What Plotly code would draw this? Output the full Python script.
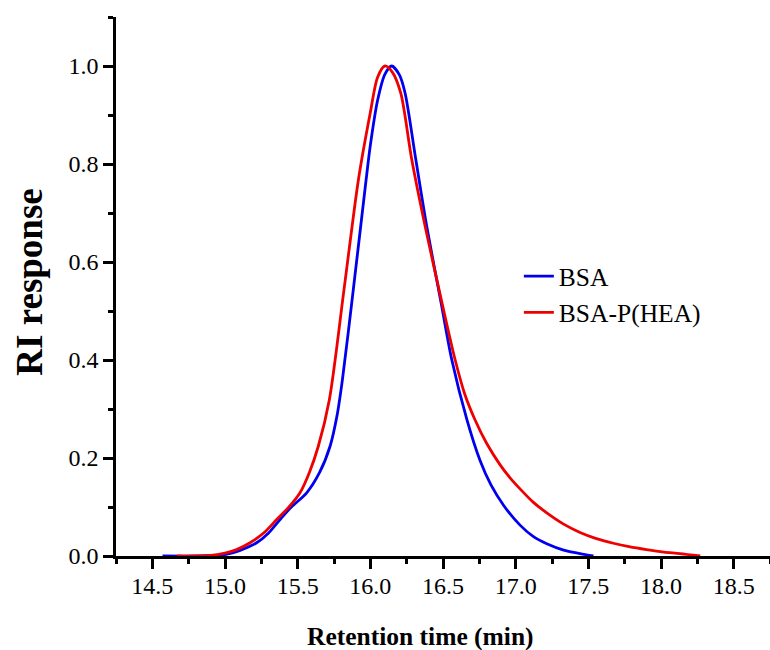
import plotly.graph_objects as go

# Retention time (min) and RI response
bsa_t = [14.57, 14.80, 15.00, 15.10, 15.218, 15.30, 15.379, 15.45, 15.562, 15.65, 15.723, 15.77, 15.808,
         15.883, 15.971, 16.00, 16.05, 16.10, 16.147, 16.20, 16.239, 16.313, 16.388,
         16.491, 16.56, 16.664, 16.755, 16.83, 16.92, 17.03, 17.12, 17.214, 17.33, 17.443, 17.535]
bsa_v = [0.0, 0.0, 0.003, 0.011, 0.027, 0.047, 0.0745, 0.098, 0.129, 0.170, 0.224, 0.285, 0.360,
         0.544, 0.768, 0.838, 0.930, 0.983, 1.0, 0.982, 0.945, 0.809, 0.673,
         0.510, 0.401, 0.279, 0.195, 0.145, 0.102, 0.063, 0.040, 0.025, 0.012, 0.005, 0.0]

hea_t = [14.67, 14.90, 15.00, 15.08, 15.172, 15.27, 15.356, 15.44, 15.516, 15.58, 15.642, 15.718,
         15.819, 15.918, 16.00, 16.05, 16.10, 16.15, 16.209, 16.285, 16.377, 16.498,
         16.583, 16.65, 16.72, 16.80, 16.893, 16.96, 17.03, 17.12, 17.214, 17.33, 17.443, 17.55,
         17.672, 17.78, 17.90, 18.02, 18.13, 18.27]
hea_v = [0.0, 0.001, 0.006, 0.013, 0.027, 0.048, 0.0745, 0.100, 0.129, 0.170, 0.224, 0.319,
         0.544, 0.768, 0.905, 0.977, 1.0, 0.988, 0.945, 0.809, 0.673, 0.510,
         0.401, 0.330, 0.278, 0.230, 0.186, 0.160, 0.137, 0.110, 0.088, 0.065, 0.048, 0.036,
         0.026, 0.019, 0.013, 0.008, 0.005, 0.0]

x_ticks = [14.5, 15.0, 15.5, 16.0, 16.5, 17.0, 17.5, 18.0, 18.5]
y_ticks = [0.0, 0.2, 0.4, 0.6, 0.8, 1.0]

FONT = "Liberation Serif"

fig = go.Figure()
fig.add_trace(go.Scatter(x=bsa_t, y=bsa_v, mode="lines", name="BSA",
                         line=dict(color="#0000EE", width=2.8, shape="spline", smoothing=0.8)))
fig.add_trace(go.Scatter(x=hea_t, y=hea_v, mode="lines", name="BSA-P(HEA)",
                         line=dict(color="#EE0000", width=2.8, shape="spline", smoothing=0.8)))

fig.update_layout(
    width=770, height=650,
    margin=dict(l=116, r=0, t=17, b=94),
    plot_bgcolor="white", paper_bgcolor="white",
    font=dict(family=FONT, size=24, color="black"),
    showlegend=True,
    legend=dict(x=0.616, y=0.562, xanchor="left", yanchor="top",
                bgcolor="rgba(0,0,0,0)", font=dict(family=FONT, size=25.5),
                itemwidth=30, tracegroupgap=0),
    xaxis=dict(range=[14.25, 18.75], tickvals=x_ticks, ticktext=[f"{v:.1f}" for v in x_ticks],
               automargin=False,
               showgrid=False, zeroline=False, showline=True, linecolor="black", linewidth=2.5,
               ticks="outside", ticklen=10, tickwidth=2.5, tickcolor="black",
               ticklabelstandoff=-4,
               minor=dict(ticks="outside", ticklen=5, tickwidth=2.5, tickcolor="black",
                          dtick=0.25, tick0=14.25, showgrid=False),
               tickfont=dict(family=FONT, size=24)),
    yaxis=dict(range=[0, 1.1], tickvals=y_ticks, ticktext=[f"{v:.1f}" for v in y_ticks],
               automargin=False,
               showgrid=False, zeroline=False, showline=True, linecolor="black", linewidth=2.5,
               ticks="outside", ticklen=10, tickwidth=2.5, tickcolor="black",
               minor=dict(ticks="outside", ticklen=5, tickwidth=2.5, tickcolor="black",
                          dtick=0.1, tick0=0, showgrid=False),
               tickfont=dict(family=FONT, size=24)),
    annotations=[
        dict(text="<b>Retention time (min)</b>", xref="paper", yref="paper",
             x=0.465, y=-0.149, xanchor="center", yanchor="middle", showarrow=False,
             font=dict(family=FONT, size=25.5)),
        dict(text="<b>RI response</b>", xref="paper", yref="paper", textangle=-90,
             x=-0.1315, y=0.509, xanchor="center", yanchor="middle", showarrow=False,
             font=dict(family=FONT, size=37)),
    ],
)

fig.write_html("out.html", config={"displayModeBar": False},
               post_script="document.body.style.margin='0px';document.body.style.overflow='hidden';")
